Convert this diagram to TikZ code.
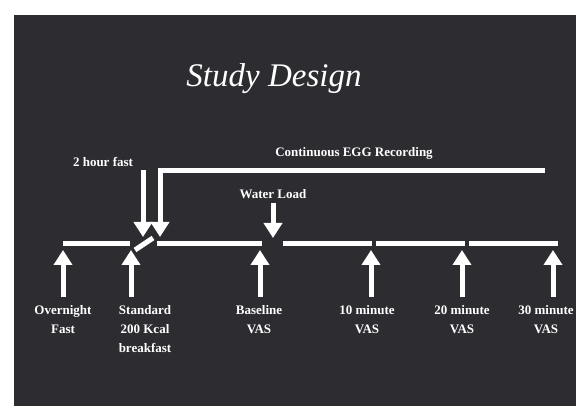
\documentclass[tikz,border=0pt]{standalone}
\usepackage{fontspec}
\setmainfont{Liberation Serif}
\usetikzlibrary{arrows.meta}
\definecolor{slide}{RGB}{45,44,49}

\tikzset{
  lbl/.style={text=white, font=\bfseries\fontsize{13}{19}\selectfont, align=center, inner sep=0pt},
  bar/.style={white, line width=5pt},
  arr/.style={white, line width=5pt, -{Triangle[width=18pt,length=15pt]}},
}

\begin{document}
\begin{tikzpicture}[x=1pt,y=-1pt]
    % Slide
    \useasboundingbox (0,0) rectangle (576,406);
    \fill[white] (0,0) rectangle (576,406);
    \fill[slide] (14,15) rectangle (576,406);

    % Title
    \node[text=white, font=\itshape\fontsize{33}{40}\selectfont] (title) at (274,79) {Study Design};

    % Top labels
    \path
    (103,162) node[lbl] (fast) {2 hour fast}
    (354,153) node[lbl] (egg) {Continuous EGG Recording}
    (273,194) node[lbl] (water) {Water Load}
    ;

    % Bottom labels
    \path
    (63,305) node[lbl, anchor=north] (overnight) {Overnight\\Fast}
    (145,305) node[lbl, anchor=north] (breakfast) {Standard\\200 Kcal\\breakfast}
    (259,305) node[lbl, anchor=north] (baseline) {Baseline\\VAS}
    (367,305) node[lbl, anchor=north] (vas10) {10 minute\\VAS}
    (462,305) node[lbl, anchor=north] (vas20) {20 minute\\VAS}
    (546,305) node[lbl, anchor=north] (vas30) {30 minute\\VAS}
    ;

    % Timeline points
    \path
    (63,244) coordinate (T1)
    (130,244) coordinate (T2)
    (135,250) coordinate (S1)
    (153,238) coordinate (S2)
    (157,244) coordinate (T3)
    (262,244) coordinate (T4)
    (283,244) coordinate (T5)
    (372,244) coordinate (T6)
    (376,244) coordinate (T7)
    (465,244) coordinate (T8)
    (469,244) coordinate (T9)
    (558,244) coordinate (T10)
    ;

    % Timeline
    \draw[bar] (T1) -- (T2);
    \draw[bar] (S1) -- (S2);
    \draw[bar] (T3) -- (T4);
    \draw[bar] (T5) -- (T6);
    \draw[bar] (T7) -- (T8);
    \draw[bar] (T9) -- (T10);

    % Arrow tips on the timeline
    \path
    (63,250) coordinate (U1)
    (131,250) coordinate (U2)
    (260,250) coordinate (U3)
    (371,250) coordinate (U4)
    (462,250) coordinate (U5)
    (553,250) coordinate (U6)
    (143,170) coordinate (F1)
    (143,237) coordinate (F2)
    (545,171) coordinate (E1)
    (160,171) coordinate (E2)
    (160,237) coordinate (E3)
    (273,238) coordinate (W1)
    ;

    % Up arrows
    \draw[arr, shorten <=8pt] (U1 |- overnight.north) -- (U1);
    \draw[arr, shorten <=8pt] (U2 |- breakfast.north) -- (U2);
    \draw[arr, shorten <=8pt] (U3 |- baseline.north) -- (U3);
    \draw[arr, shorten <=8pt] (U4 |- vas10.north) -- (U4);
    \draw[arr, shorten <=8pt] (U5 |- vas20.north) -- (U5);
    \draw[arr, shorten <=8pt] (U6 |- vas30.north) -- (U6);

    % Down arrows
    \draw[arr] (F1) -- (F2);
    \draw[arr] (E1) -- (E2) -- (E3);
    \draw[arr, shorten <=4pt] (water.south) -- (W1);

\end{tikzpicture}
\end{document}
